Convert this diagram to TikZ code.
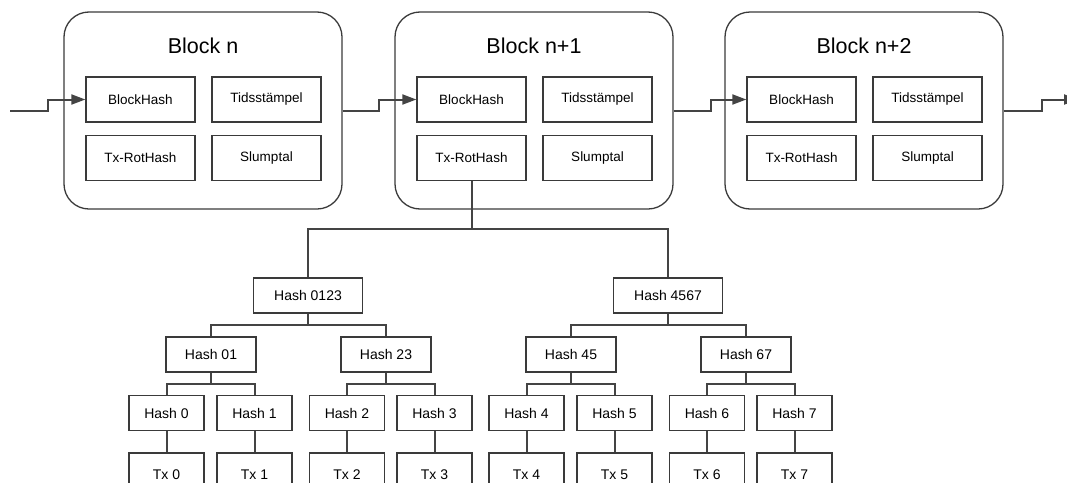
\documentclass[tikz,border=0pt]{standalone}
\usepackage{fontspec}
\setmainfont{Liberation Sans}
\usetikzlibrary{arrows.meta,calc}

\definecolor{edge}{HTML}{3A3A3A}
\definecolor{wire}{HTML}{444444}

\tikzset{
  blockbox/.style={draw=edge, line width=1.3pt, rounded corners=25pt,
    minimum width=278pt, minimum height=197pt, inner sep=0pt},
  fieldbox/.style={draw=edge, line width=1.3pt, minimum width=109pt,
    minimum height=45pt, inner sep=0pt, font=\fontsize{13.5}{16}\selectfont},
  hashbox/.style={draw=edge, line width=1.3pt, minimum height=35pt,
    inner sep=0pt, font=\fontsize{14}{17}\selectfont},
  title/.style={anchor=base, font=\fontsize{21.5}{26}\selectfont},
  chain/.style={draw=wire, line width=2pt,
    -{Triangle[length=14pt,width=10pt]}},
  branch/.style={draw=wire, line width=2pt,
    to path={|- ($(\tikztostart)!.5!(\tikztotarget)$) -| (\tikztotarget)}},
}

\begin{document}
\begin{tikzpicture}[x=1pt,y=-1pt]
\useasboundingbox (0,0) rectangle (1067,482);
\clip (0,0) rectangle (1067,482);

% the three chained blocks
\foreach \i/\left/\name in {0/64/n, 1/395/n+1, 2/725/n+2}{
  \node[blockbox] (b\i) at (\left+139,110.5) {};
  \node[title] (t\i) at (\left+139,53.3) {Block \name};
  \node[fieldbox] (b\i bh) at (\left+76.5,99.5) {BlockHash};
  \node[fieldbox] (b\i ts) at (\left+202.5,99.5) {Tidsstämpel};
  \node[fieldbox] (b\i rh) at (\left+76.5,158) {Tx-RotHash};
  \node[fieldbox] (b\i sl) at (\left+202.5,158) {Slumptal};
}

% links between blocks
\coordinate (in) at (10,110.5);
\coordinate (out) at (1078,99.5);
\draw[chain] (in) -- (48,110.5) |- (b0bh.west);
\draw[chain] (b0.east) -- ++(36,0) |- (b1bh.west);
\draw[chain] (b1.east) -- ++(37,0) |- (b2bh.west);
\draw[chain] (b2.east) -- ++(38,0) |- (out);

% Merkle tree below the root hash
\node[hashbox, minimum width=109pt] (h0123) at (308,295.5) {Hash 0123};
\node[hashbox, minimum width=109pt] (h4567) at (668,295.5) {Hash 4567};

\node[hashbox, minimum width=90pt] (h01) at (211,354.5) {Hash 01};
\node[hashbox, minimum width=90pt] (h23) at (386,354.5) {Hash 23};
\node[hashbox, minimum width=90pt] (h45) at (571,354.5) {Hash 45};
\node[hashbox, minimum width=90pt] (h67) at (746,354.5) {Hash 67};

\foreach \k/\x in {0/166.5, 1/254.5, 2/347, 3/434.5, 4/526.5, 5/614.5, 6/707, 7/794.5}{
  \node[hashbox, minimum width=75pt] (h\k) at (\x,413) {Hash \k};
  \node[hashbox, minimum width=75pt, minimum height=44pt] (tx\k) at (\x,475) {Tx \k};
  \draw[wire, line width=2pt] (h\k) -- (tx\k);
}

\draw (b1rh.south) edge[branch] (h0123.north)
                   edge[branch] (h4567.north);
\draw (h0123.south) edge[branch] (h01.north)
                    edge[branch] (h23.north);
\draw (h4567.south) edge[branch] (h45.north)
                    edge[branch] (h67.north);
\draw (h01.south) edge[branch] (h0.north) edge[branch] (h1.north);
\draw (h23.south) edge[branch] (h2.north) edge[branch] (h3.north);
\draw (h45.south) edge[branch] (h4.north) edge[branch] (h5.north);
\draw (h67.south) edge[branch] (h6.north) edge[branch] (h7.north);
\end{tikzpicture}
\end{document}
